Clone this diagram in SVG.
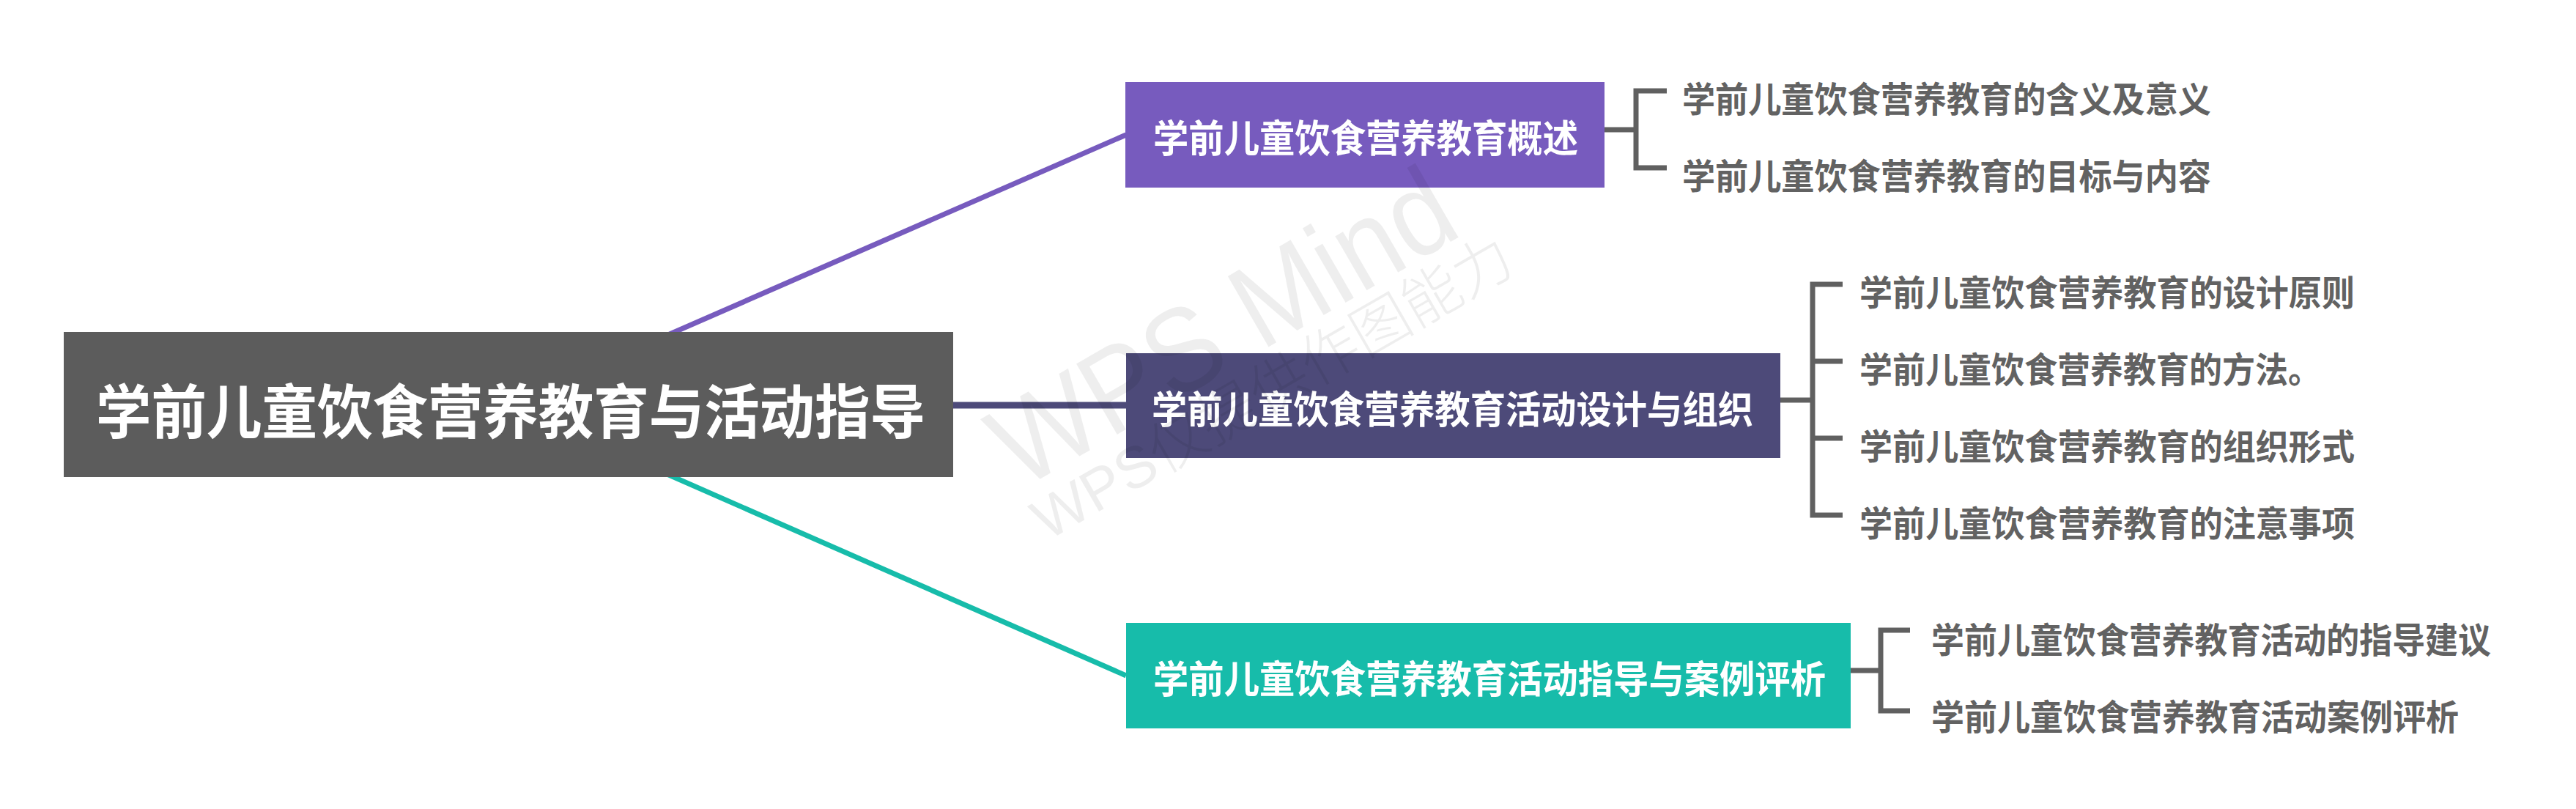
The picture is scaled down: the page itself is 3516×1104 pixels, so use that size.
<svg xmlns="http://www.w3.org/2000/svg" width="3516" height="1104" viewBox="0 0 3516 1104">
<style>
.t{font-family:"Noto Sans CJK SC","Liberation Sans",sans-serif;font-weight:700;dominant-baseline:central}
.w{fill:#ffffff}
.sub{fill:#626262;font-size:48px}
.l1{font-size:52px}
.br{fill:none;stroke:#606060;stroke-width:7;stroke-linejoin:miter;stroke-linecap:butt}
.wm{font-family:"Liberation Sans","Noto Sans CJK SC",sans-serif;font-weight:300;fill:#000000;fill-opacity:0.066}
</style>
<rect x="0" y="0" width="3516" height="1104" fill="#ffffff"/>
<g id="connectors">
<line x1="694" y1="552" x2="1537" y2="184" stroke="#775bbe" stroke-width="7"/>
<line x1="694" y1="553" x2="1538" y2="553" stroke="#4d4a79" stroke-width="9"/>
<line x1="694" y1="552" x2="1537" y2="922" stroke="#17bcaa" stroke-width="7"/>
<path class="br" d="M2187 177 H2233 M2275 124 H2233 V229 H2275"/>
<path class="br" d="M2427 546 H2474 M2515 388 H2474 V703 H2515 M2474 493 H2515 M2474 598 H2515"/>
<path class="br" d="M2523 915 H2567 M2607 860 H2567 V970 H2607"/>
</g>
<g id="root">
<rect x="87" y="453" width="1214" height="198" fill="#5c5c5c"/>
<text class="t w" x="131" y="556" font-size="80" textLength="1132" lengthAdjust="spacingAndGlyphs">学前儿童饮食营养教育与活动指导</text>
</g>
<g id="nodeA">
<rect x="1536" y="112" width="654" height="144" fill="#775bbe"/>
<text class="t w l1" x="1574" y="185" textLength="580" lengthAdjust="spacingAndGlyphs">学前儿童饮食营养教育概述</text>
</g>
<g id="nodeB">
<rect x="1537" y="482" width="893" height="143" fill="#4d4a79"/>
<text class="t w l1" x="1572" y="555" textLength="821" lengthAdjust="spacingAndGlyphs">学前儿童饮食营养教育活动设计与组织</text>
</g>
<g id="nodeC">
<rect x="1537" y="850" width="989" height="144" fill="#17bcaa"/>
<text class="t w l1" x="1574" y="923" textLength="918" lengthAdjust="spacingAndGlyphs">学前儿童饮食营养教育活动指导与案例评析</text>
</g>
<g id="nodeA1"><text class="t sub" x="2296" y="132" textLength="722" lengthAdjust="spacingAndGlyphs">学前儿童饮食营养教育的含义及意义</text></g>
<g id="nodeA2"><text class="t sub" x="2296" y="237" textLength="722" lengthAdjust="spacingAndGlyphs">学前儿童饮食营养教育的目标与内容</text></g>
<g id="nodeB1"><text class="t sub" x="2538" y="396" textLength="676" lengthAdjust="spacingAndGlyphs">学前儿童饮食营养教育的设计原则</text></g>
<g id="nodeB2"><text class="t sub" x="2538" y="501" textLength="630" lengthAdjust="spacingAndGlyphs">学前儿童饮食营养教育的方法。</text></g>
<g id="nodeB3"><text class="t sub" x="2538" y="606" textLength="676" lengthAdjust="spacingAndGlyphs">学前儿童饮食营养教育的组织形式</text></g>
<g id="nodeB4"><text class="t sub" x="2538" y="711" textLength="676" lengthAdjust="spacingAndGlyphs">学前儿童饮食营养教育的注意事项</text></g>
<g id="nodeC1"><text class="t sub" x="2636" y="870" textLength="764" lengthAdjust="spacingAndGlyphs">学前儿童饮食营养教育活动的指导建议</text></g>
<g id="nodeC2"><text class="t sub" x="2636" y="975" textLength="720" lengthAdjust="spacingAndGlyphs">学前儿童饮食营养教育活动案例评析</text></g>
<g id="watermark">
<text class="wm" font-size="162" textLength="700" lengthAdjust="spacingAndGlyphs" transform="translate(1393,669) rotate(-30)">WPS Mind</text>
<text class="wm" font-size="80" transform="translate(1429,739) rotate(-30)">WPS仅提供作图能力</text>
</g>
</svg>
